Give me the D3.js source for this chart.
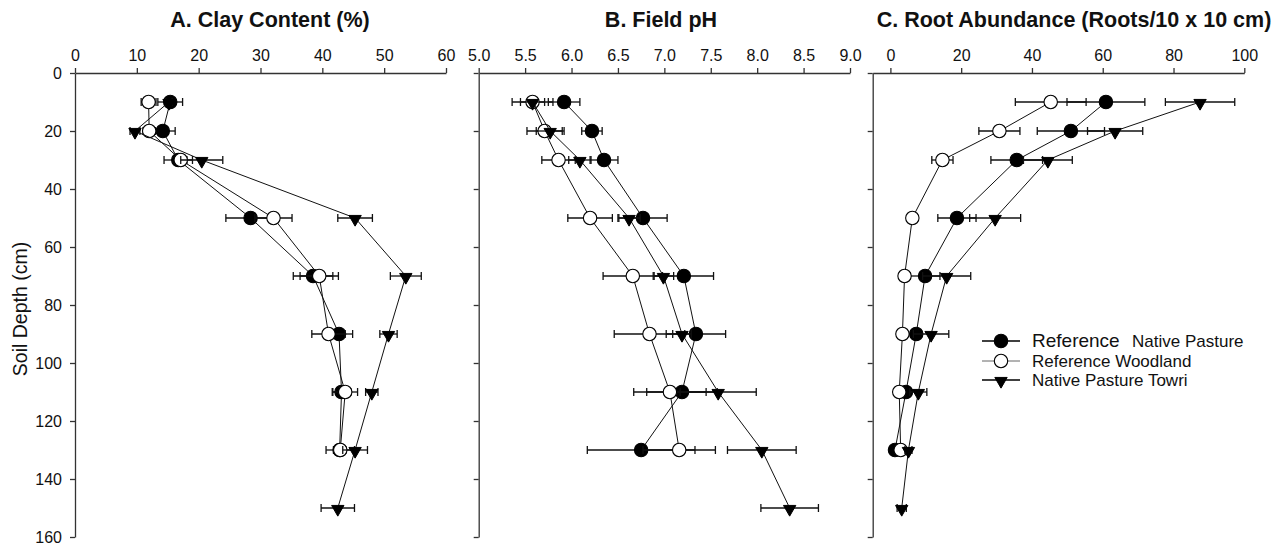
<!DOCTYPE html>
<html>
<head>
<meta charset="utf-8">
<script src="https://cdn.jsdelivr.net/npm/d3@7/dist/d3.min.js"></script>
<style>
  html, body { margin: 0; padding: 0; background: #fff; }
  svg { display: block; font-family: "Liberation Sans", Arial, sans-serif; }
  .axis path, .axis line { stroke: #333; stroke-width: 1.3; }
  .axis text { fill: #111; font-size: 16px; font-family: "Liberation Sans", Arial, sans-serif; }
</style>
</head>
<body>
<svg id="chart" width="1284" height="548"></svg>
<script>
// Sampling depths (cm)
const depths = [10, 20, 30, 50, 70, 90, 110, 130, 150];
const depthTicks = [0, 20, 40, 60, 80, 100, 120, 140, 160];

// Series names
const seriesNames = ["Reference Native Pasture", "Reference Woodland", "Native Pasture Towri"];

// A. Clay content (%) – means and standard errors per depth
const clayNative    = [15.4, 14.2, 16.7, 28.4, 38.5, 42.7, 43.1, 42.8, null];
const clayNativeErr = [2.0, 2.0, 2.3, 4.0, 3.2, 2.2, 1.5, 1.0, null];
const clayWood      = [11.9, 12.0, 17.1, 32.1, 39.5, 41.0, 43.7, 42.9, null];
const clayWoodErr   = [1.2, 1.0, 1.0, 3.0, 3.1, 2.7, 2.0, 2.3, null];
const clayTowri     = [15.2, 9.7, 20.5, 45.3, 53.5, 50.7, 48.0, 45.3, 42.5];
const clayTowriErr  = [0.5, 0.8, 3.4, 2.8, 2.5, 1.4, 1.0, 2.0, 2.7];
const clayTicks     = [0, 10, 20, 30, 40, 50, 60];

// B. Field pH
const phNative    = [5.92, 6.22, 6.35, 6.77, 7.21, 7.34, 7.19, 6.75, null];
const phNativeErr = [0.17, 0.11, 0.15, 0.26, 0.32, 0.32, 0.38, 0.58, null];
const phWood      = [5.58, 5.71, 5.86, 6.20, 6.66, 6.84, 7.06, 7.16, null];
const phWoodErr   = [0.22, 0.19, 0.18, 0.24, 0.32, 0.38, 0.39, 0.39, null];
const phTowri     = [5.58, 5.77, 6.09, 6.62, 6.99, 7.19, 7.58, 8.05, 8.35];
const phTowriErr  = [0.13, 0.15, 0.12, 0.12, 0.11, 0.10, 0.41, 0.37, 0.31];
const phTicks     = [5.0, 5.5, 6.0, 6.5, 7.0, 7.5, 8.0, 8.5, 9.0];

// C. Root abundance (roots / 10 x 10 cm)
const rootNative    = [60.9, 51.0, 35.7, 18.8, 9.8, 7.3, 4.4, 1.3, null];
const rootNativeErr = [11.0, 9.5, 7.3, 5.4, 4.2, 1.5, 1.2, 0.8, null];
const rootWood      = [45.3, 30.8, 14.7, 6.2, 4.0, 3.4, 2.5, 2.9, null];
const rootWoodErr   = [10.0, 5.8, 3.0, 1.0, 1.0, 0.8, 0.8, 0.8, null];
const rootTowri     = [87.5, 63.5, 44.5, 29.6, 15.9, 11.5, 7.9, 5.1, 3.2];
const rootTowriErr  = [9.8, 7.8, 6.9, 7.2, 6.8, 5.0, 2.4, 1.0, 1.3];
const rootTicks     = [0, 20, 40, 60, 80, 100];

const svg = d3.select("#chart");

const y = d3.scaleLinear().domain([0, 160]).range([73, 537]);

const panels = [
  {
    title: "A. Clay Content (%)", titleX: 270,
    x: d3.scaleLinear().domain([0, 60]).range([75, 446]),
    ticks: clayTicks, fmt: d3.format("d"), yLabels: true,
    series: [[clayNative, clayNativeErr], [clayWood, clayWoodErr], [clayTowri, clayTowriErr]]
  },
  {
    title: "B. Field pH", titleX: 661,
    x: d3.scaleLinear().domain([5, 9]).range([478.7, 850]),
    ticks: phTicks, fmt: d3.format(".1f"), yLabels: false,
    series: [[phNative, phNativeErr], [phWood, phWoodErr], [phTowri, phTowriErr]]
  },
  {
    title: "C. Root Abundance (Roots/10 x 10 cm)", titleX: 1074,
    x: d3.scaleLinear().domain([-5, 100]).range([872.7, 1244.3]),
    ticks: rootTicks, fmt: d3.format("d"), yLabels: false,
    series: [[rootNative, rootNativeErr], [rootWood, rootWoodErr], [rootTowri, rootTowriErr]]
  }
];

const fills = ["#000", "#fff", "#000"];
const triangle = d3.symbol().type(d3.symbolTriangle).size(66);

function drawMarker(g, kind, cx, cy) {
  if (kind === 2) {
    g.append("path")
      .attr("d", triangle())
      .attr("transform", `translate(${cx},${cy + 1}) rotate(180)`)
      .attr("fill", "#000").attr("stroke", "#000").attr("stroke-width", 1);
  } else {
    g.append("circle")
      .attr("cx", cx).attr("cy", cy).attr("r", 6.7)
      .attr("fill", fills[kind]).attr("stroke", "#000").attr("stroke-width", 1.1);
  }
}

panels.forEach(p => {
  const g = svg.append("g");
  const x0 = p.x.range()[0];

  // title
  g.append("text")
    .attr("x", p.titleX).attr("y", 27)
    .attr("text-anchor", "middle")
    .attr("font-weight", "bold").attr("font-size", 21.5)
    .attr("fill", "#111")
    .text(p.title);

  // top value axis
  g.append("g").attr("class", "axis")
    .attr("transform", `translate(0,${y(0)})`)
    .call(d3.axisTop(p.x).tickValues(p.ticks).tickFormat(p.fmt)
      .tickSize(5).tickSizeOuter(0).tickPadding(7));

  // depth axis
  const ya = d3.axisLeft(y).tickValues(depthTicks).tickSize(5).tickSizeOuter(0).tickPadding(8);
  if (!p.yLabels) ya.tickFormat("");
  g.append("g").attr("class", "axis")
    .attr("transform", `translate(${x0},0)`)
    .call(ya);

  const line = d3.line()
    .defined(d => d.v != null)
    .x(d => p.x(d.v)).y(d => y(d.depth));

  p.series.forEach(([vals, errs], k) => {
    const pts = depths.map((depth, i) => ({ depth, v: vals[i], e: errs[i] }))
      .filter(d => d.v != null);
    const sg = g.append("g");
    sg.append("path").datum(pts)
      .attr("d", line).attr("fill", "none")
      .attr("stroke", "#111").attr("stroke-width", 1);
    // error bars
    pts.forEach(d => {
      if (!d.e) return;
      const xl = p.x(d.v - d.e), xr = p.x(d.v + d.e), yy = y(d.depth);
      sg.append("line").attr("x1", xl).attr("x2", xr).attr("y1", yy).attr("y2", yy)
        .attr("stroke", "#111").attr("stroke-width", 1.3);
      [xl, xr].forEach(xx => sg.append("line")
        .attr("x1", xx).attr("x2", xx).attr("y1", yy - 4).attr("y2", yy + 4)
        .attr("stroke", "#111").attr("stroke-width", 1.3));
    });
    pts.forEach(d => drawMarker(sg, k, p.x(d.v), y(d.depth)));
  });
});

// y-axis title
svg.append("text")
  .attr("transform", "translate(27,309) rotate(-90)")
  .attr("text-anchor", "middle")
  .attr("font-size", 19.5).attr("fill", "#111")
  .text("Soil Depth (cm)");

// legend
const legendY = [341, 361, 380];
const lg = svg.append("g");
seriesNames.forEach((name, k) => {
  const yy = legendY[k];
  lg.append("line").attr("x1", 982).attr("x2", 1020).attr("y1", yy).attr("y2", yy)
    .attr("stroke", k === 1 ? "#666" : "#000").attr("stroke-width", k === 1 ? 1 : 1.6);
  drawMarker(lg, k, 1001, yy);
  const t = lg.append("text").attr("x", 1032).attr("y", yy + 6)
    .attr("font-size", 17).attr("fill", "#111");
  if (k === 0) {
    t.append("tspan").attr("font-size", 19).text("Reference");
    t.append("tspan").attr("x", 1132).text("Native Pasture");
  } else {
    t.text(name);
  }
});
</script>
</body>
</html>
